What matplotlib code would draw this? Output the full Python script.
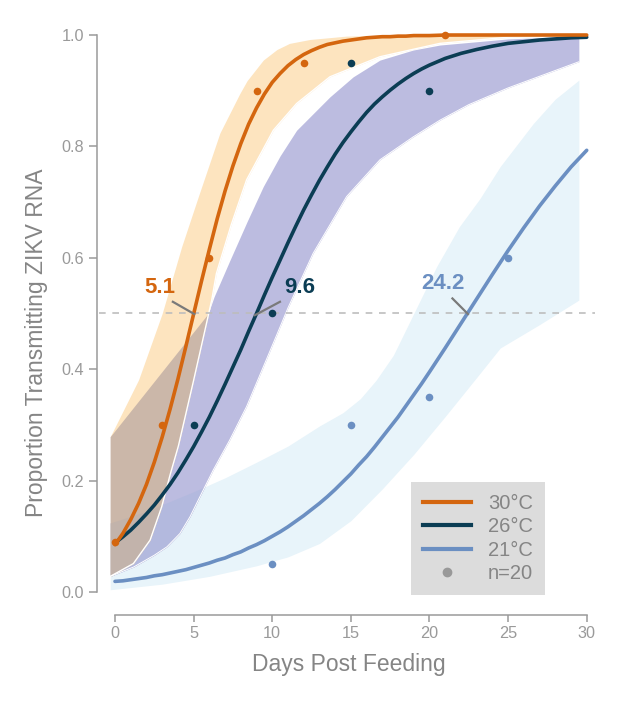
import numpy as np
import matplotlib
matplotlib.use("Agg")
import matplotlib.pyplot as plt
from matplotlib.lines import Line2D

plt.rcParams['font.family'] = ['Liberation Sans', 'DejaVu Sans']

# ---------------- data ----------------
# days at which the fitted curves were read (half days up to 20, whole days after)
days = [0, 0.5, 1, 1.5, 2, 2.5, 3, 3.5, 4, 4.5, 5, 5.5, 6, 6.5, 7, 7.5, 8, 8.5, 9, 9.5,
        10, 10.5, 11, 11.5, 12, 12.5, 13, 13.5, 14, 14.5, 15, 15.5, 16, 16.5, 17, 17.5,
        18, 18.5, 19, 19.5, 20, 21, 22, 23, 24, 25, 26, 27, 28, 29, 30]

fit_30 = [0.085, 0.105, 0.130, 0.159, 0.193, 0.233, 0.278, 0.328, 0.382, 0.440,
          0.499, 0.558, 0.615, 0.670, 0.720, 0.765, 0.805, 0.840, 0.869, 0.894,
          0.915, 0.931, 0.945, 0.956, 0.965, 0.972, 0.978, 0.983, 0.986, 0.989,
          0.991, 0.993, 0.995, 0.996, 0.997, 0.997, 0.998, 0.998, 0.999, 0.999,
          0.999, 1.0, 1.0, 1.0, 1.0, 1.0, 1.0, 1.0, 1.0, 1.0, 1.0]
fit_26 = [0.088, 0.099, 0.111, 0.125, 0.140, 0.156, 0.174, 0.193, 0.214, 0.237,
          0.261, 0.287, 0.314, 0.343, 0.373, 0.404, 0.435, 0.468, 0.500, 0.533,
          0.565, 0.596, 0.627, 0.657, 0.686, 0.713, 0.739, 0.763, 0.786, 0.807,
          0.826, 0.844, 0.861, 0.876, 0.889, 0.901, 0.912, 0.922, 0.931, 0.939,
          0.946, 0.958, 0.967, 0.974, 0.980, 0.985, 0.988, 0.991, 0.993, 0.995, 0.996]
fit_21 = [0.019, 0.020, 0.022, 0.024, 0.026, 0.029, 0.031, 0.034, 0.037, 0.040,
          0.044, 0.048, 0.052, 0.057, 0.061, 0.067, 0.072, 0.079, 0.085, 0.092,
          0.100, 0.108, 0.117, 0.127, 0.137, 0.148, 0.159, 0.171, 0.184, 0.198,
          0.212, 0.228, 0.243, 0.260, 0.278, 0.296, 0.314, 0.334, 0.354, 0.374,
          0.395, 0.438, 0.482, 0.526, 0.570, 0.613, 0.654, 0.693, 0.729, 0.763, 0.793]

# observed proportions (n=20)
obs30_x = [0, 3, 6, 9, 12, 21]
obs30_y = [0.09, 0.30, 0.60, 0.90, 0.95, 1.00]
obs26_x = [5, 10, 15, 20]
obs26_y = [0.30, 0.50, 0.95, 0.90]
obs21_x = [10, 15, 20, 25]
obs21_y = [0.05, 0.30, 0.35, 0.60]

# confidence bands
o_up_x = [-0.3, 1.5, 3.0, 4.24, 5.3, 6.67, 7.94, 8.4, 9.43, 10.3, 11.1, 12.4, 14.7, 18.0, 29.5]
o_up_y = [0.279, 0.381, 0.50, 0.62, 0.71, 0.824, 0.895, 0.918, 0.955, 0.974, 0.985, 0.992, 0.998, 1.0, 1.0]
o_lo_x = [-0.3, 1.17, 2.23, 2.97, 3.5, 4.03, 5.0, 5.72, 6.15, 6.45, 7.4, 8.37, 10.07, 11.55, 13.67,
          16.85, 20.66, 25.0, 29.5]
o_lo_y = [0.028, 0.051, 0.093, 0.153, 0.21, 0.262, 0.38, 0.47, 0.524, 0.572, 0.66, 0.74, 0.829, 0.877,
          0.925, 0.961, 0.985, 0.996, 0.999]

p_up_x = [-0.3, 5.93, 6.3, 7.3, 8.4, 9.43, 10.5, 11.55, 13.67, 15.15, 16.85, 18.96, 20.66, 25.0, 29.5]
p_up_y = [0.279, 0.50, 0.53, 0.595, 0.665, 0.728, 0.783, 0.829, 0.889, 0.925, 0.955, 0.973, 0.982, 0.993, 0.998]
p_lo_x = [-0.3, 1.2, 2.5, 3.3, 4.13, 4.77, 5.4, 6.25, 7.3, 8.37, 9.43, 10.5, 11.0, 12.6, 14.73,
          16.85, 18.96, 20.66, 22.5, 25.0, 29.5]
p_lo_y = [0.028, 0.045, 0.066, 0.081, 0.105, 0.135, 0.171, 0.219, 0.273, 0.333, 0.404, 0.476, 0.51,
          0.608, 0.71, 0.776, 0.817, 0.847, 0.875, 0.905, 0.952]

b_up_x = [-0.3, 2.0, 5.0, 7.0, 9.0, 11.0, 13.0, 14.5, 15.6, 16.6, 17.7, 19.0, 20.45, 21.9, 23.2,
          24.5, 26.6, 28.0, 29.5]
b_up_y = [0.124, 0.145, 0.18, 0.205, 0.233, 0.262, 0.298, 0.322, 0.347, 0.38, 0.425, 0.50, 0.584,
          0.656, 0.706, 0.764, 0.841, 0.885, 0.919]
b_lo_x = [-0.3, 3.0, 6.0, 9.0, 11.0, 13.0, 15.0, 17.0, 19.0, 21.0, 23.0, 24.5, 27.0, 29.5]
b_lo_y = [0.004, 0.014, 0.028, 0.047, 0.063, 0.087, 0.128, 0.185, 0.247, 0.315, 0.385, 0.438, 0.48, 0.524]

labels = ['30°C', '26°C', '21°C', 'n=20']
ec50_text = ['5.1', '9.6', '24.2']

# ---------------- style ----------------
C30, C26, C21 = '#d4660f', '#0b3d54', '#6b8fc2'
PEACH, PURPLE, LBLUE = '#fde4bf', '#bcbce0', '#e8f4fa'
BROWN, PURP_LB, BROWN_LB = '#cbb7a9', '#b3b9de', '#c2b3ab'
GRAY_TXT = '#858585'
GRAY_TICK = '#9a9a9a'

fig = plt.figure(figsize=(6.17, 7.08), dpi=100)
ax = fig.add_axes([0.1558, 0.1285, 0.8104, 0.8299])
ax.set_xlim(-1.2, 30.6)
ax.set_ylim(-0.045, 1.01)

xg = np.linspace(-0.3, 29.5, 1200)
oU = np.interp(xg, o_up_x, o_up_y); oL = np.interp(xg, o_lo_x, o_lo_y)
pU = np.interp(xg, p_up_x, p_up_y); pL = np.interp(xg, p_lo_x, p_lo_y)
bU = np.interp(xg, b_up_x, b_up_y); bL = np.interp(xg, b_lo_x, b_lo_y)

kw = dict(linewidth=0, antialiased=True)
ax.fill_between(xg, bL, bU, color=LBLUE, zorder=1, **kw)
ax.fill_between(xg, pL, pU, color=PURPLE, zorder=2, **kw)
ax.fill_between(xg, oL, oU, color=PEACH, zorder=3, **kw)

# overlaps (multiplied tints)
lo = np.maximum(pL, bL); hi = np.minimum(pU, bU)
ax.fill_between(xg, lo, hi, where=hi > lo, interpolate=True, color=PURP_LB, zorder=2.5, **kw)
lo = np.maximum(oL, pL); hi = np.minimum(oU, pU)
ax.fill_between(xg, lo, hi, where=hi > lo, interpolate=True, color=BROWN, zorder=3.5, **kw)
lo = np.maximum.reduce([oL, pL, bL]); hi = np.minimum.reduce([oU, pU, bU])
ax.fill_between(xg, lo, hi, where=hi > lo, interpolate=True, color=BROWN_LB, zorder=3.6, **kw)

ax.plot(o_lo_x, o_lo_y, color='white', lw=1.0, zorder=3.8)
ax.plot(p_lo_x, p_lo_y, color='white', lw=0.7, zorder=3.7)

# 50% reference line
ax.plot([-1.0, 30.5], [0.5, 0.5], color='#bdbdbd', lw=1.2, dashes=(4, 4), zorder=4)

# curves
for y, c in [(fit_21, C21), (fit_26, C26), (fit_30, C30)]:
    ax.plot(days, y, color=c, lw=2.6, zorder=5, solid_capstyle='round', solid_joinstyle='round')

# observed points
ax.scatter(obs30_x, obs30_y, s=30, color=C30, zorder=6, linewidths=0)
ax.scatter(obs26_x, obs26_y, s=30, color=C26, zorder=6, linewidths=0)
ax.scatter(obs21_x, obs21_y, s=30, color=C21, zorder=6, linewidths=0)

# EC50 annotations
ann = [(ec50_text[0], C30, (2.86, 0.546), (3.68, 0.521), (5.04, 0.499)),
       (ec50_text[1], C26, (11.76, 0.546), (10.49, 0.521), (8.9, 0.497)),
       (ec50_text[2], C21, (20.85, 0.553), (21.46, 0.527), (22.45, 0.499))]
for t, c, tp, p0, p1 in ann:
    ax.text(tp[0], tp[1], t, color=c, fontsize=16, fontweight='bold',
            ha='center', va='center', zorder=7)
    ax.plot([p0[0], p1[0]], [p0[1], p1[1]], color='#7a7a7a', lw=1.6, zorder=7)

# axes styling
for s in ['top', 'right']:
    ax.spines[s].set_visible(False)
ax.spines['left'].set_position(('data', -1.17))
ax.spines['left'].set_bounds(0, 1)
ax.spines['bottom'].set_position(('data', -0.041))
ax.spines['bottom'].set_bounds(0, 30)
for s in ['left', 'bottom']:
    ax.spines[s].set_color(GRAY_TICK)
    ax.spines[s].set_linewidth(1.1)

ax.set_yticks([0.0, 0.2, 0.4, 0.6, 0.8, 1.0])
ax.set_yticklabels(['0.0', '0.2', '0.4', '0.6', '0.8', '1.0'])
ax.set_xticks([0, 5, 10, 15, 20, 25, 30])
ax.tick_params(axis='y', direction='out', length=6, width=1.1, color=GRAY_TICK,
               labelcolor=GRAY_TICK, labelsize=11.7, pad=3)
ax.tick_params(axis='x', direction='out', length=5, width=1.1, color=GRAY_TICK,
               labelcolor=GRAY_TICK, labelsize=11.7, pad=3)

fig.text(37 / 617, 1 - 343 / 708, 'Proportion Transmitting ZIKV RNA', rotation=90,
         ha='center', va='center', fontsize=16.5, color=GRAY_TXT)
fig.text(349 / 617, 1 - 665 / 708, 'Days Post Feeding',
         ha='center', va='center', fontsize=16.5, color=GRAY_TXT)

handles = [Line2D([], [], color=C30, lw=3),
           Line2D([], [], color=C26, lw=3),
           Line2D([], [], color=C21, lw=3),
           Line2D([], [], color='#999999', marker='o', ls='none', markersize=6)]
leg = ax.legend(handles, labels, loc='lower left', bbox_to_anchor=(0.629, 0.037),
                frameon=True, fancybox=False, fontsize=14.5, handlelength=2.4,
                handletextpad=0.85, labelspacing=0.22, borderpad=0.6, borderaxespad=0)
leg.get_frame().set_facecolor('#dcdcdc')
leg.get_frame().set_edgecolor('none')
leg.get_frame().set_alpha(1)
leg.set_zorder(10)
for t in leg.get_texts():
    t.set_color(GRAY_TXT)

fig.savefig('out.png', dpi=100)
